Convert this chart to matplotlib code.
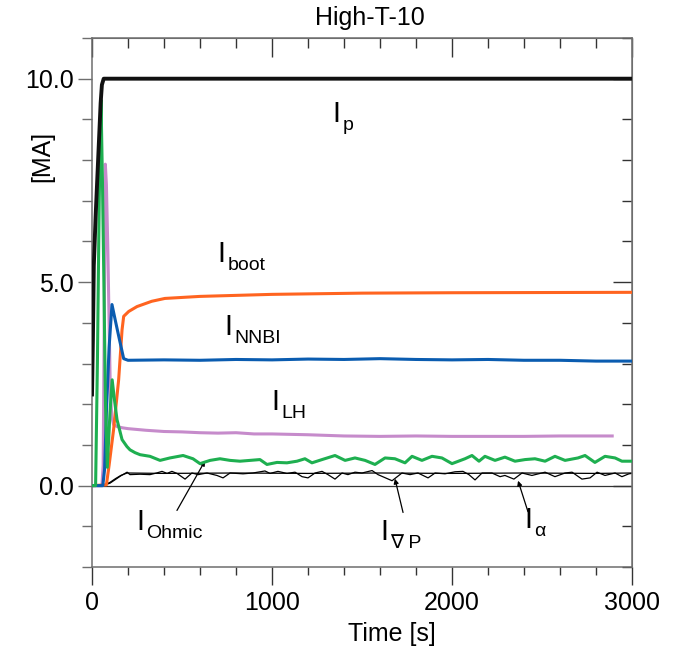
import matplotlib
matplotlib.use("Agg")
import matplotlib.pyplot as plt
from matplotlib.ticker import MultipleLocator, FormatStrFormatter

plt.rcParams['font.family'] = ['Liberation Sans', 'DejaVu Sans']

# ---------------- data ----------------
ip_t = [0, 5, 10, 20, 30, 40, 48, 55, 65, 3000]
ip_v = [2.24, 3.6, 5.4, 6.6, 7.6, 8.6, 9.4, 9.85, 10.0, 10.0]

boot_t = [0, 80, 95, 120, 148, 167, 176, 204, 250, 332, 405, 600, 1000, 1500, 2000, 3000]
boot_v = [0, 0.02, 0.5, 1.38, 2.6, 3.83, 4.16, 4.28, 4.4, 4.53, 4.6, 4.65, 4.70, 4.73, 4.74, 4.75]

nnbi_t = [0, 60, 70, 80, 95, 111, 130, 150, 176, 200, 400, 600, 800, 1000, 1200,
          1400, 1600, 1800, 2000, 2200, 2400, 2600, 2800, 3000]
nnbi_v = [0, 0, 0.4, 1.8, 3.4, 4.45, 4.05, 3.64, 3.12, 3.08, 3.09, 3.08, 3.10, 3.09, 3.11,
          3.10, 3.12, 3.10, 3.09, 3.10, 3.08, 3.08, 3.06, 3.06]

lh_t = [0, 55, 62, 68, 74, 80, 88, 95, 102, 110, 120, 140, 170, 200, 300, 400, 500,
        600, 700, 800, 900, 1000, 1200, 1400, 1600, 1800, 2000, 2200, 2400, 2600, 2890]
lh_v = [0, 0, 0.5, 4.0, 7.9, 7.4, 5.8, 4.0, 2.3, 1.7, 1.5, 1.45, 1.42, 1.40, 1.36, 1.33, 1.32,
        1.30, 1.29, 1.30, 1.27, 1.27, 1.25, 1.22, 1.21, 1.22, 1.21, 1.21, 1.21, 1.22, 1.22]

ohm_t = [0, 20, 30, 40, 50, 58, 66, 75, 85, 100,
         112, 125, 139, 167, 194, 211, 239, 267, 322, 378,
         433, 506, 561, 600, 656, 711, 767, 822, 878, 933,
         972, 1028, 1083, 1139, 1183, 1222, 1278, 1350, 1406, 1461,
         1517, 1572, 1628, 1683, 1739, 1778, 1833, 1889, 1944, 2000,
         2072, 2111, 2150, 2183, 2239, 2294, 2350, 2406, 2461, 2517,
         2572, 2628, 2700, 2739, 2794, 2850, 2906, 2944, 3000]
ohm_v = [0, 0, 3.0, 7.0, 9.48, 7.5, 5.0, 2.0, 0.45, 1.8,
         2.6, 2.1, 1.62, 1.13, 0.96, 0.88, 0.81, 0.76, 0.72, 0.62,
         0.68, 0.74, 0.66, 0.54, 0.62, 0.66, 0.62, 0.60, 0.62, 0.64,
         0.52, 0.57, 0.56, 0.60, 0.66, 0.56, 0.64, 0.74, 0.62, 0.68,
         0.62, 0.52, 0.68, 0.66, 0.56, 0.72, 0.62, 0.72, 0.68, 0.54,
         0.66, 0.74, 0.60, 0.72, 0.62, 0.70, 0.60, 0.64, 0.66, 0.60,
         0.72, 0.62, 0.68, 0.74, 0.57, 0.72, 0.68, 0.60, 0.60]

nabla_t = [0, 60, 100, 130, 160, 195, 211, 267, 322, 359,
           389, 417, 444, 472, 517, 555, 590, 639, 694, 728,
           767, 839, 894, 961, 989, 1033, 1083, 1128, 1167, 1200,
           1239, 1278, 1311, 1350, 1389, 1422, 1461, 1500, 1556, 1589,
           1667, 1722, 1767, 1811, 1867, 1906, 1961, 2017, 2061, 2094,
           2128, 2167, 2222, 2267, 2294, 2344, 2389, 2444, 2517, 2572,
           2628, 2667, 2722, 2767, 2806, 2850, 2906, 2944, 2983, 3000]
nabla_v = [0, 0, 0.06, 0.15, 0.24, 0.33, 0.27, 0.28, 0.27, 0.31,
           0.35, 0.30, 0.35, 0.30, 0.16, 0.31, 0.27, 0.31, 0.25, 0.19,
           0.31, 0.29, 0.31, 0.36, 0.30, 0.35, 0.30, 0.33, 0.22, 0.19,
           0.31, 0.35, 0.27, 0.16, 0.31, 0.27, 0.33, 0.31, 0.37, 0.27,
           0.12, 0.31, 0.27, 0.31, 0.19, 0.31, 0.29, 0.34, 0.35, 0.27,
           0.14, 0.31, 0.31, 0.22, 0.25, 0.16, 0.31, 0.25, 0.33, 0.22,
           0.31, 0.33, 0.16, 0.19, 0.33, 0.25, 0.31, 0.22, 0.29, 0.30]

alpha_t = [0, 60, 100, 130, 160, 195, 400, 800, 1200, 1600, 2000, 2400, 2800, 3000]
alpha_v = [0, 0, 0.08, 0.17, 0.25, 0.31, 0.30, 0.31, 0.30, 0.31, 0.30, 0.31, 0.30, 0.31]

x_ticks = [0, 1000, 2000, 3000]
y_ticks = [0.0, 5.0, 10.0]

# curve labels: (subscript, time, value of baseline)
label_subs = ['p', 'boot', 'NNBI', 'LH', 'Ohmic', '\u2207 P', '\u03b1']
label_t = [1333, 694, 733, 994, 244, 1600, 2400]
label_v = [8.94, 5.50, 3.71, 1.87, -1.08, -1.33, -1.03]

# ---------------- figure ----------------
fig = plt.figure(figsize=(6.82, 6.56), dpi=100)
ax = fig.add_axes([92/682, 1-567/656, 540/682, 529/656])

frame_c = '#6e6e6e'
ax.axhline(0, color='#333333', lw=0.9, zorder=1)

ax.plot(alpha_t, alpha_v, color='black', lw=0.9, zorder=2)
ax.plot(nabla_t, nabla_v, color='black', lw=0.9, zorder=2)
ax.plot(lh_t, lh_v, color='#C68BCB', lw=2.2, zorder=3)
ax.plot(boot_t, boot_v, color='#FF6420', lw=2.2, zorder=3)
ax.plot(nnbi_t, nnbi_v, color='#0A5CB0', lw=2.2, zorder=4)
ax.plot(ip_t, ip_v, color='#111111', lw=2.8, zorder=5)
ax.plot(ohm_t, ohm_v, color='#1EAF50', lw=2.2, zorder=4)

ax.set_xlim(0, 3000)
ax.set_ylim(-2, 11)

for s in ax.spines.values():
    s.set_color(frame_c)
    s.set_linewidth(1.1)

ax.set_xticks(x_ticks)
ax.set_yticks(y_ticks)
ax.xaxis.set_minor_locator(MultipleLocator(200))
ax.yaxis.set_minor_locator(MultipleLocator(1))
ax.yaxis.set_major_formatter(FormatStrFormatter('%.1f'))
ax.tick_params(axis='both', which='both', direction='out', colors='black',
               labelsize=18, top=False, right=False)
ax.tick_params(axis='x', which='major', length=13, width=1.0, color='#333333', pad=4)
ax.tick_params(axis='x', which='minor', length=6, width=1.0, color='#333333')
ax.tick_params(axis='y', which='major', length=10, width=1.0, color=frame_c, pad=3)
ax.tick_params(axis='y', which='minor', length=7, width=1.0, color=frame_c)

# inward ticks on top and right
top = ax.secondary_xaxis('top')
top.set_xticks(x_ticks)
top.xaxis.set_minor_locator(MultipleLocator(200))
top.tick_params(which='both', direction='in', labeltop=False, color='#333333', width=1.0)
top.tick_params(which='major', length=14)
top.tick_params(which='minor', length=7)
top.spines['top'].set_color(frame_c)
right = ax.secondary_yaxis('right')
right.set_yticks(y_ticks)
right.yaxis.set_minor_locator(MultipleLocator(1))
right.tick_params(which='both', direction='in', labelright=False, color='#333333', width=1.0)
right.tick_params(which='major', length=14)
right.tick_params(which='minor', length=7)
right.spines['right'].set_color(frame_c)

# titles / labels
ax.text(0.515, 1.038, 'High-T-10', transform=ax.transAxes, ha='center', va='center', fontsize=18)
ax.text(0.556, -0.127, 'Time [s]', transform=ax.transAxes, ha='center', va='center', fontsize=18)
ax.text(-0.093, 0.777, '[MA]', transform=ax.transAxes, ha='center', va='center',
        rotation=90, fontsize=18)

for sub, t, v in zip(label_subs, label_t, label_v):
    ax.text(t, v, 'I', fontsize=21, ha='left', va='baseline')
    ax.annotate(sub, xy=(t, v), xytext=(7.5, -6), textcoords='offset points',
                fontsize=14, ha='left', va='baseline',
                family=['Liberation Sans', 'DejaVu Sans'])

arrow_kw = dict(arrowstyle='-|>', lw=0.9, color='black', mutation_scale=7,
                shrinkA=0, shrinkB=0)
ax.annotate('', xy=(628, 0.61), xytext=(472, -0.61), arrowprops=arrow_kw)
ax.annotate('', xy=(1683, 0.17), xytext=(1728, -0.66), arrowprops=arrow_kw)
ax.annotate('', xy=(2367, 0.12), xytext=(2422, -0.64), arrowprops=arrow_kw)

fig.savefig('out.png', dpi=100)
